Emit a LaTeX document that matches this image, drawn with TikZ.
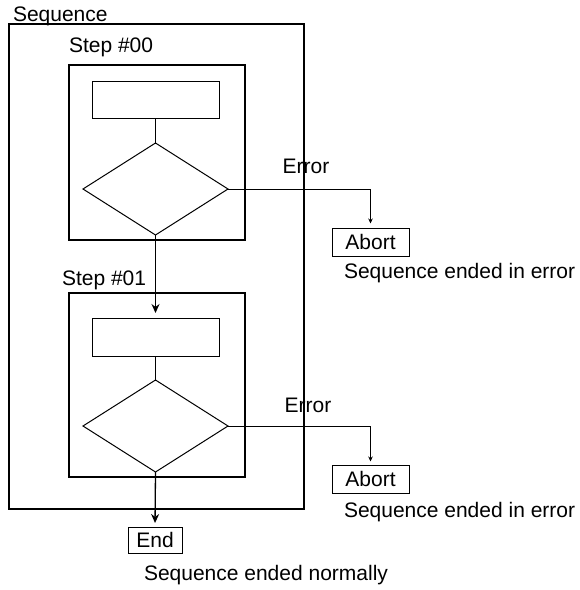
\documentclass[tikz,border=0pt]{standalone}
\usepackage{fontspec}
\setmainfont{Liberation Sans}
\usetikzlibrary{shapes.geometric,arrows.meta}
\begin{document}
\begin{tikzpicture}[x=1pt,y=-1pt,
  txt/.style={font=\fontsize{21}{24}\selectfont, inner sep=0pt, outer sep=0pt},
  frame/.style={draw, line width=1.3pt, inner sep=0pt, outer sep=0pt},
  act/.style={draw, line width=0.8pt, inner sep=0pt, outer sep=0pt, minimum width=127pt},
  dec/.style={draw, diamond, line width=1pt, inner sep=0pt, outer sep=0pt, minimum width=145pt, minimum height=92pt},
  term/.style={draw, line width=0.8pt, txt, minimum height=28pt},
  flow/.style={line width=1.3pt, -{Stealth[length=9pt,width=8pt]}},
  err/.style={line width=0.8pt, -{Stealth[length=5pt,width=4.5pt]}}
]
\useasboundingbox (0,0) rectangle (580,590);

% frames
\node[frame, minimum width=295pt, minimum height=485pt] (seq) at (156.5,266.5) {};
\node[frame, minimum width=176pt, minimum height=175pt] (step0) at (157,152.5) {};
\node[frame, minimum width=176pt, minimum height=184pt] (step1) at (157,385) {};

% labels
\node[txt, anchor=base west] (seqlbl) at (13,21) {Sequence};
\node[txt, anchor=base west] (s0lbl) at (69,52) {Step \#00};
\node[txt, anchor=base west] (s1lbl) at (62,285) {Step \#01};

% step contents
\node[act, minimum height=37pt] (in0) at (155.5,99.5) {};
\node[dec] (d0) at (155.5,189) {};
\node[act, minimum height=38pt] (in1) at (155.5,337) {};
\node[dec] (d1) at (155.5,426) {};

% terminals
\node[term, minimum width=77pt] (ab0) at (370.5,242) {Abort};
\node[term, minimum width=77pt] (ab1) at (370.5,479) {Abort};
\node[term, minimum width=54pt, minimum height=26pt] (end) at (155,540) {End};

\node[txt, anchor=base] (e0) at (306,173) {Error};
\node[txt, anchor=base] (e1) at (308,412.5) {Error};
\node[txt, anchor=base west] (m0) at (344,278) {Sequence ended in error};
\node[txt, anchor=base west] (m1) at (344,517.5) {Sequence ended in error};
\node[txt, anchor=base west] (m2) at (144,580) {Sequence ended normally};

% connectors
\draw[line width=0.8pt] (in0.south) -- (d0.north);
\draw[line width=0.8pt] (in1.south) -- (d1.north);
\draw[flow, shorten >=5pt] (d0.south) -- (in1.north);
\draw[flow, shorten >=4pt] (d1.south) -- (end.north);
\draw[err, shorten >=4.5pt] (d0.east) -| (ab0.north);
\draw[err, shorten >=3.5pt] (d1.east) -| (ab1.north);
\end{tikzpicture}
\end{document}
